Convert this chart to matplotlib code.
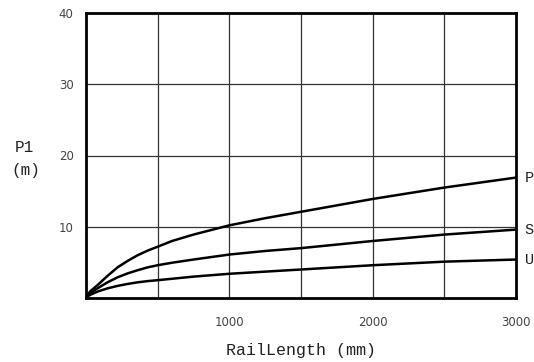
import matplotlib
matplotlib.use("Agg")
import matplotlib.pyplot as plt

x = [0, 10, 30, 80, 150, 220, 290, 360, 430, 500, 600, 750, 1000, 1250, 1500, 2000, 2500, 3000]
P = [0, 0.4, 0.95, 1.8, 3.1, 4.3, 5.2, 6.0, 6.65, 7.2, 8.0, 8.9, 10.2, 11.2, 12.1, 13.9, 15.5, 16.9]
S = [0, 0.3, 0.7, 1.35, 2.2, 2.9, 3.45, 3.9, 4.3, 4.6, 4.95, 5.4, 6.1, 6.6, 7.0, 8.0, 8.9, 9.6]
U = [0, 0.2, 0.45, 0.9, 1.35, 1.7, 1.97, 2.2, 2.37, 2.5, 2.7, 3.0, 3.4, 3.7, 4.0, 4.6, 5.1, 5.4]
series = {"P": P, "S": S, "U": U}
xticks = [1000, 2000, 3000]
yticks = [10, 20, 30, 40]

mono = "Liberation Mono"

fig = plt.figure(figsize=(5.34, 3.62), dpi=100)
ax = fig.add_axes([86/534, 64/362, 430/534, 285/362])
ax.set_xlim(0, 3000)
ax.set_ylim(0, 40)

for xv in range(500, 3000, 500):
    ax.axvline(xv, color="#333333", lw=0.9, zorder=1)
for yv in [10, 20, 30]:
    ax.axhline(yv, color="#333333", lw=0.9, zorder=1)

for name, vals in series.items():
    ax.plot(x, vals, color="black", lw=1.8, zorder=3, solid_joinstyle="round")
    ax.text(1.02, vals[-1] / 40, name, transform=ax.transAxes, ha="left",
            va="center", fontsize=11, family=mono, color="#222222")

ax.set_xticks(xticks)
ax.set_yticks(yticks)
ax.tick_params(length=0, labelsize=8.5, labelcolor="#444444")
ax.tick_params(axis="x", pad=13)
ax.tick_params(axis="y", pad=9)
for s in ax.spines.values():
    s.set_linewidth(2)
    s.set_color("black")

fig.text(24/534, 1 - 147/362, "P1", ha="center", va="center", fontsize=11.5,
         family=mono, color="#222222")
fig.text(26/534, 1 - 170/362, "(m)", ha="center", va="center", fontsize=11.5,
         family=mono, color="#222222")
fig.text(301/534, 1 - 351/362, "RailLength (mm)", ha="center", va="center",
         fontsize=12, family=mono, color="#222222")

fig.savefig("out.png", dpi=100)
